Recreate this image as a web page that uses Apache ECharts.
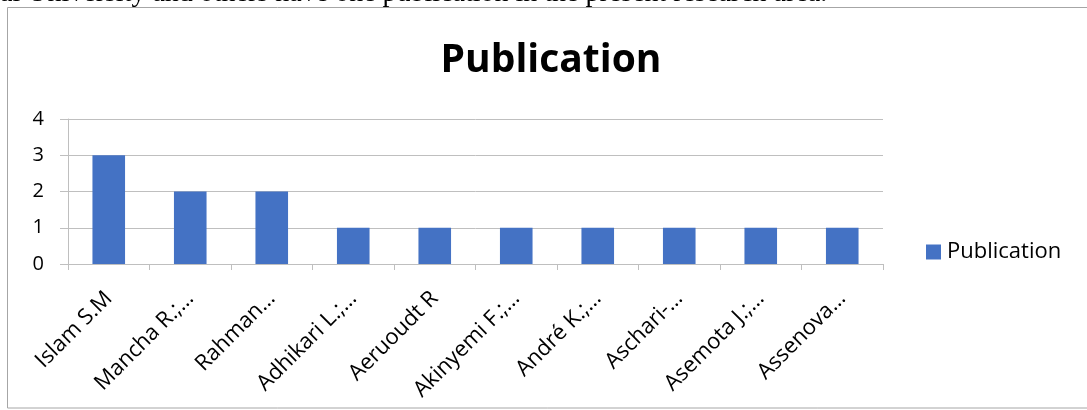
<!DOCTYPE html>
<html>
<head>
<meta charset="utf-8">
<script src="https://cdn.jsdelivr.net/npm/echarts@6/dist/echarts.min.js"></script>
<style>
  html, body { margin: 0; padding: 0; background: #fff; }
  #chart { width: 1087px; height: 410px; }
</style>
</head>
<body>
<div id="chart"></div>
<script>
// Publication counts per author
const authors = ['Islam S.M', 'Mancha R.;…', 'Rahman…', 'Adhikari L.;…', 'Aeruoudt R',
                 'Akinyemi F.;…', 'André K.;…', 'Aschari-…', 'Asemota J.;…', 'Assenova…'];
const publications = [3, 2, 2, 1, 1, 1, 1, 1, 1, 1];
const yTicks = [0, 1, 2, 3, 4];
const seriesName = 'Publication';
const captionText = 'al University and others have one publication in the present research area.';

const chart = echarts.init(document.getElementById('chart'), null, { renderer: 'canvas' });
const axisFont = '"Open Sans", "Noto Sans", sans-serif';

chart.setOption({
  animation: false,
  backgroundColor: '#fff',
  title: {
    text: seriesName,
    left: 551,
    textAlign: 'center',
    top: 41,
    padding: 0,
    textStyle: { fontFamily: axisFont, fontSize: 39, fontWeight: 'bold', color: '#000' }
  },
  legend: {
    data: [seriesName],
    left: 926,
    top: 241,
    padding: 0,
    icon: 'rect',
    itemWidth: 15,
    itemHeight: 15,
    textStyle: { fontFamily: axisFont, fontSize: 22, color: '#000', padding: [0, 0, 0, 1] }
  },
  grid: { left: 68, right: 204, top: 119, bottom: 146, containLabel: false },
  xAxis: {
    type: 'category',
    data: authors,
    axisLine: { lineStyle: { color: '#bfbfbf', width: 1 } },
    axisTick: { show: true, length: 6, alignWithLabel: false, lineStyle: { color: '#bfbfbf' } },
    axisLabel: {
      interval: 0,
      rotate: 45,
      margin: 31,
      fontFamily: axisFont,
      fontSize: 22,
      color: '#000'
    }
  },
  yAxis: {
    type: 'value',
    min: yTicks[0],
    max: yTicks[yTicks.length - 1],
    interval: 1,
    axisLine: { show: true, lineStyle: { color: '#bfbfbf' } },
    axisTick: { show: true, length: 8, lineStyle: { color: '#bfbfbf' } },
    splitLine: { show: true, lineStyle: { color: '#bfbfbf', width: 1 } },
    axisLabel: { margin: 24, fontFamily: axisFont, fontSize: 20, color: '#000' }
  },
  series: [{
    name: seriesName,
    type: 'bar',
    data: publications,
    barWidth: '40%',
    itemStyle: { color: '#4472c4' }
  }],
  graphic: [
    {
      type: 'rect',
      shape: { x: 7.5, y: 7.5, width: 1100, height: 400.5 },
      style: { fill: 'none', stroke: '#a6a6a6', lineWidth: 1 },
      z: -1
    },
    {
      type: 'text',
      x: 0,
      y: -6,
      style: {
        text: captionText,
        fontFamily: '"Liberation Serif", "DejaVu Serif", serif',
        fontSize: 28,
        fill: '#000',
        verticalAlign: 'middle'
      }
    }
  ]
});
</script>
</body>
</html>
